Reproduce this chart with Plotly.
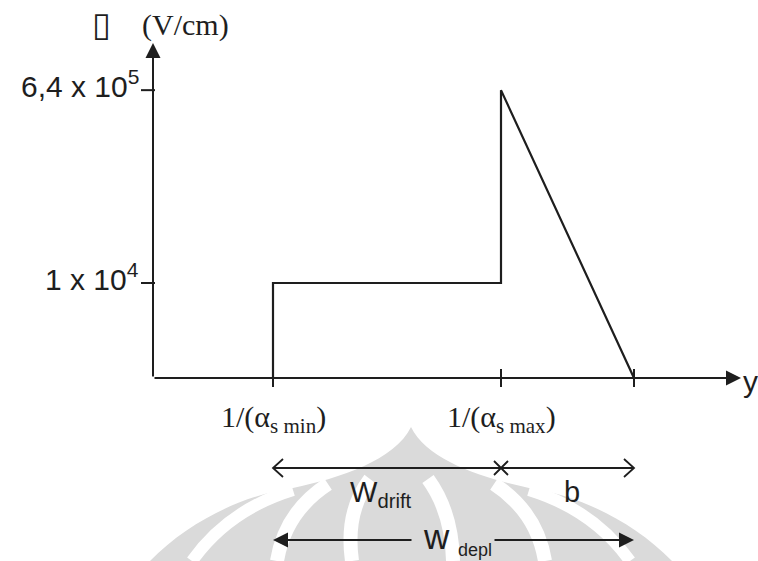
import plotly.graph_objects as go

# ---- schematic data -------------------------------------------------------
# depth positions along y (schematic units): 1/alpha_min, 1/alpha_max, end of depletion
depth_labels = ["1/(α<sub>s min</sub>)", "1/(α<sub>s max</sub>)"]
depth_pos = [1.20, 3.48, 4.81]

# field levels on the (non-linear) schematic field axis
field_labels = ["1 x 10<sup>4</sup>", "6,4 x 10<sup>5</sup>"]
field_levels = [1.0, 3.03]

# field profile: step to the drift plateau, jump to the peak, linear fall over b
profile_y = [depth_pos[0], depth_pos[0], depth_pos[1], depth_pos[1], depth_pos[2]]
profile_E = [0, field_levels[0], field_levels[0], field_levels[1], 0]

# ---- canvas ---------------------------------------------------------------
W, H = 758, 561
X0_PX, Y0_PX = 153, 378          # origin of the schematic axes
SX, SY = 100.0, 95.0             # pixels per schematic unit
XR = [-X0_PX / SX, (W - X0_PX) / SX]
YR = [-(H - Y0_PX) / SY, Y0_PX / SY]

INK = "#1e1e1e"
SANS = "Liberation Sans, Arial, sans-serif"
SERIF = "Liberation Serif, Times New Roman, serif"


def dx(px):
    return (px - X0_PX) / SX


def dy(py):
    return (Y0_PX - py) / SY


def ppath(cmds):
    """Build an SVG path in paper coordinates from pixel coordinates."""
    out = []
    for c in cmds:
        if isinstance(c, str):
            out.append(c)
        else:
            x, y = c
            out.append(f"{x / W:.5f},{1 - y / H:.5f}")
    return " ".join(out)


fig = go.Figure()

# ---- background emblem (faint) --------------------------------------------
GREY = "#dadada"
shapes = [
    dict(type="path", xref="paper", yref="paper", layer="below",
         fillcolor=GREY, line=dict(width=0),
         path=ppath(["M", (150, 561),
                     "C", (190, 520), (245, 495), (293, 488),
                     "C", (340, 478), (395, 460), (411, 427),
                     "C", (427, 460), (482, 478), (529, 488),
                     "C", (577, 495), (632, 520), (672, 561), "Z"])),
]
bands = [
    ([(293, 490), (228, 510), (192, 561)], 12),
    ([(529, 490), (594, 510), (630, 561)], 12),
    ([(328, 484), (285, 512), (277, 561)], 14),
    ([(494, 484), (537, 512), (545, 561)], 14),
    ([(370, 479), (345, 512), (352, 561)], 14),
    ([(428, 479), (452, 512), (453, 561)], 14),
]
for pts, w in bands:
    shapes.append(dict(type="path", xref="paper", yref="paper", layer="below",
                       line=dict(color="white", width=w),
                       path=ppath(["M", pts[0], "Q", pts[1], pts[2]])))

# ---- field profile --------------------------------------------------------
fig.add_trace(go.Scatter(x=profile_y, y=profile_E, mode="lines",
                         line=dict(color=INK, width=2.2), hoverinfo="skip"))

# ticks on the depth axis
fig.add_trace(go.Scatter(x=depth_pos, y=[0] * len(depth_pos), mode="markers",
                         marker=dict(symbol="line-ns", size=13,
                                     line=dict(color=INK, width=2)),
                         hoverinfo="skip"))
# ticks on the field axis
fig.add_trace(go.Scatter(x=[-0.05] * len(field_levels), y=field_levels,
                         mode="markers",
                         marker=dict(symbol="line-ew", size=10,
                                     line=dict(color=INK, width=2)),
                         hoverinfo="skip"))

# ---- dimension lines ------------------------------------------------------
DRIFT_Y = dy(468)
DEPL_Y = dy(540)
ARM_X, ARM_Y = 0.10, 9 / SY

fig.add_trace(go.Scatter(x=[depth_pos[0], depth_pos[2]], y=[DRIFT_Y, DRIFT_Y],
                         mode="lines", line=dict(color=INK, width=1.8),
                         hoverinfo="skip"))
for tip, sgn in ((depth_pos[0], 1), (depth_pos[2], -1)):
    fig.add_trace(go.Scatter(
        x=[tip + sgn * ARM_X, tip, tip + sgn * ARM_X],
        y=[DRIFT_Y + ARM_Y, DRIFT_Y, DRIFT_Y - ARM_Y],
        mode="lines", line=dict(color=INK, width=1.8), hoverinfo="skip"))
fig.add_trace(go.Scatter(x=[depth_pos[1]], y=[DRIFT_Y], mode="markers",
                         marker=dict(symbol="x-thin", size=14,
                                     line=dict(color=INK, width=1.8)),
                         hoverinfo="skip"))

annotations = []


def arrow(x, y, ax, ay, width=2.0, size=1.5):
    annotations.append(dict(x=x, y=y, ax=ax, ay=ay, xref="x", yref="y",
                            axref="x", ayref="y", text="", showarrow=True,
                            arrowhead=2, arrowsize=size, arrowwidth=width,
                            arrowcolor=INK, standoff=0, startstandoff=0))


def label(x, y, text, size, family=SANS, xanchor="center", yanchor="middle"):
    annotations.append(dict(x=x, y=y, xref="x", yref="y", text=text,
                            showarrow=False, xanchor=xanchor, yanchor=yanchor,
                            font=dict(family=family, size=size, color=INK)))


# axes with arrow heads
arrow(dx(741), 0, 0, 0)
arrow(0, dy(43), 0, 0)

# w_depl: two arrows out from the label gap
arrow(depth_pos[0], DEPL_Y, dx(413), DEPL_Y)
arrow(depth_pos[2], DEPL_Y, dx(493), DEPL_Y)

# ---- text -----------------------------------------------------------------
for lvl, txt in zip(field_levels, field_labels):
    label(dx(141), lvl + 6 / SY, txt, 30, xanchor="right")

label(dx(101), dy(24), "▯", 34, family="DejaVu Sans")
label(dx(185), dy(25), "(V/cm)", 30, family=SERIF)
label(dx(741), dy(381), "y", 30, xanchor="left")

for pos, txt in zip(depth_pos, depth_labels):
    label(pos, dy(419), txt, 30, family=SERIF)

label(dx(381), dy(494), "W<sub>drift</sub>", 29)
label(dx(572), dy(492), "b", 29)
label(dx(436), dy(536), "w", 35)
label(dx(475), dy(550), "depl", 18)

fig.update_layout(
    width=W, height=H,
    margin=dict(l=0, r=0, t=0, b=0),
    paper_bgcolor="white", plot_bgcolor="white",
    showlegend=False,
    xaxis=dict(range=XR, visible=False, fixedrange=True),
    yaxis=dict(range=YR, visible=False, fixedrange=True),
    shapes=shapes,
    annotations=annotations,
)

fig.write_html("out.html")
